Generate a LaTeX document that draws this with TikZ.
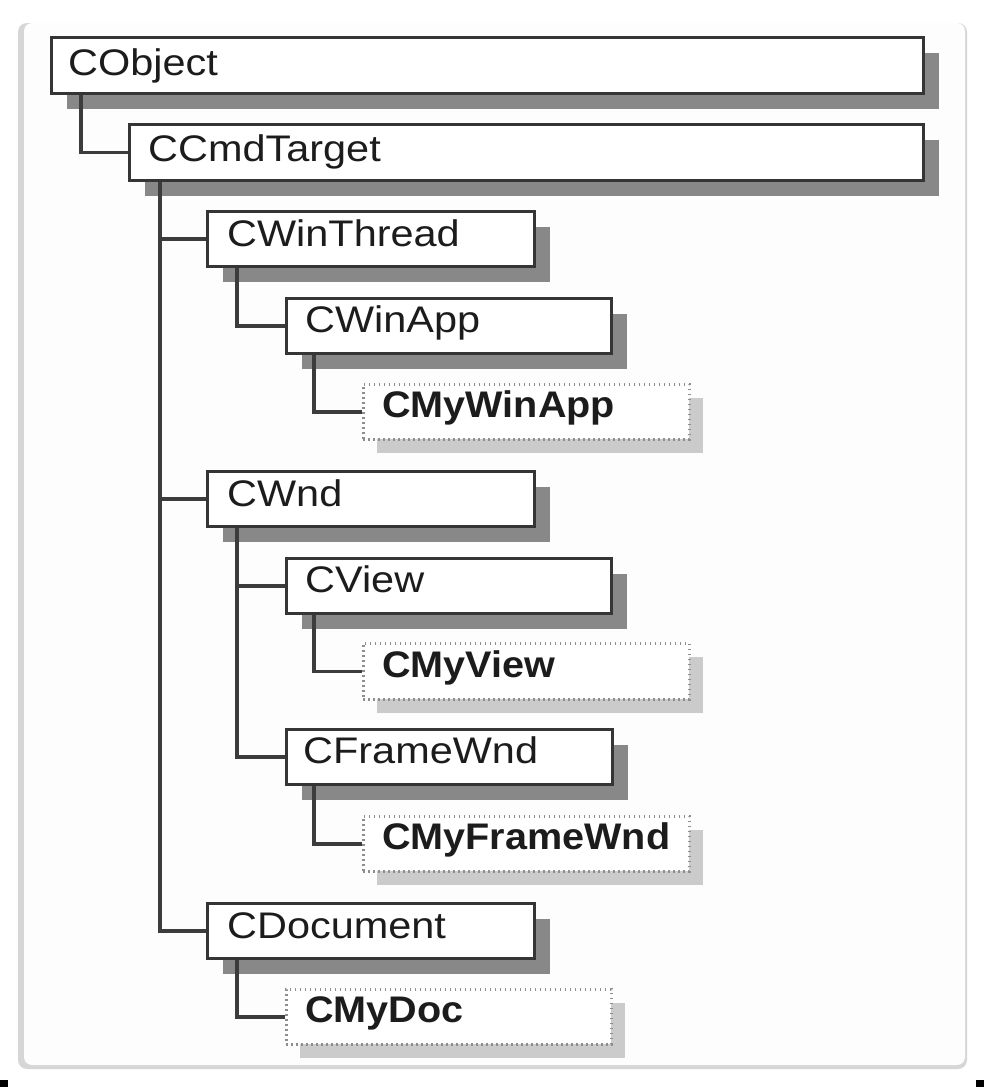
\documentclass[tikz,border=0pt]{standalone}
\usepackage{fontspec}
\setmainfont{Liberation Sans}
\usetikzlibrary{shadows}
\definecolor{boxline}{HTML}{353535}
\definecolor{conline}{HTML}{3C3C3C}
\definecolor{shadowdark}{HTML}{888888}
\definecolor{shadowlight}{HTML}{CBCBCB}
\definecolor{dotline}{HTML}{8E8E8E}
\definecolor{txt}{HTML}{1C1C1C}
\definecolor{panelfill}{HTML}{FDFDFD}
\definecolor{paneledge}{HTML}{D6D6D6}
\newcommand{\regtext}[1]{\scalebox{1.12}[1]{#1}}
\newcommand{\boldtext}[1]{\scalebox{1.07}[1]{\bfseries #1}}
\tikzset{
  solidbox/.style={draw=boxline, line width=3.2pt, fill=white, anchor=north west, inner sep=0pt,
    general shadow={fill=shadowdark, shadow xshift=15pt, shadow yshift=-15pt}},
  dotbox/.style={draw=dotline, line width=2.6pt, dash pattern=on 1.6pt off 3.4pt, fill=white, anchor=north west, inner sep=0pt,
    general shadow={fill=shadowlight, shadow xshift=14pt, shadow yshift=-14pt}},
  lbl/.style={anchor=base west, inner sep=0pt, text=txt, font=\fontsize{37}{40}\selectfont},
  conn/.style={draw=conline, line width=3.4pt},
}
\begin{document}
\begin{tikzpicture}[x=1pt,y=-1pt]
\useasboundingbox (0,0) rectangle (984,1087);
\fill[white] (0,0) rectangle (984,1087);
% panel
\fill[paneledge, rounded corners=9pt] (18,23) rectangle (967,1069);
\fill[panelfill, rounded corners=8pt] (24,23) rectangle (965,1065);
% screenshot corner marks
\fill[black] (0,1080) rectangle (8,1087);
\fill[black] (976,1080) rectangle (984,1087);

% boxes
\node[solidbox, minimum width=872pt, minimum height=56pt] (cobject) at (50,36) {};
\node[solidbox, minimum width=794pt, minimum height=56pt] (ccmd) at (128,123) {};
\node[solidbox, minimum width=327pt, minimum height=55pt] (cwinthread) at (206,210) {};
\node[solidbox, minimum width=325pt, minimum height=55pt] (cwinapp) at (285,297) {};
\node[dotbox, minimum width=326pt, minimum height=55pt] (cmywinapp) at (362,383) {};
\node[solidbox, minimum width=327pt, minimum height=55pt] (cwnd) at (206,470) {};
\node[solidbox, minimum width=325pt, minimum height=55pt] (cview) at (285,557) {};
\node[dotbox, minimum width=326pt, minimum height=56pt] (cmyview) at (362,642) {};
\node[solidbox, minimum width=326pt, minimum height=55pt] (cframe) at (285,728) {};
\node[dotbox, minimum width=326pt, minimum height=55pt] (cmyframe) at (362,815) {};
\node[solidbox, minimum width=327pt, minimum height=55pt] (cdoc) at (206,902) {};
\node[dotbox, minimum width=325pt, minimum height=55pt] (cmydoc) at (285,988) {};

% labels
\node[lbl] (tcobject) at ([shift={(18pt,20pt)}]cobject.south west) {\regtext{CObject}};
\node[lbl] (tccmd) at ([shift={(20pt,21pt)}]ccmd.south west) {\regtext{CCmdTarget}};
\node[lbl] (tcwinthread) at ([shift={(21pt,22pt)}]cwinthread.south west) {\regtext{CWinThread}};
\node[lbl] (tcwinapp) at ([shift={(20pt,23pt)}]cwinapp.south west) {\regtext{CWinApp}};
\node[lbl] (tcmywinapp) at ([shift={(20pt,23pt)}]cmywinapp.south west) {\boldtext{CMyWinApp}};
\node[lbl] (tcwnd) at ([shift={(21pt,22pt)}]cwnd.south west) {\regtext{CWnd}};
\node[lbl] (tcview) at ([shift={(20pt,23pt)}]cview.south west) {\regtext{CView}};
\node[lbl] (tcmyview) at ([shift={(20pt,23pt)}]cmyview.south west) {\boldtext{CMyView}};
\node[lbl] (tcframe) at ([shift={(18pt,23pt)}]cframe.south west) {\regtext{CFrameWnd}};
\node[lbl] (tcmyframe) at ([shift={(20pt,23pt)}]cmyframe.south west) {\boldtext{CMyFrameWnd}};
\node[lbl] (tcdoc) at ([shift={(21pt,22pt)}]cdoc.south west) {\regtext{CDocument}};
\node[lbl] (tcmydoc) at ([shift={(20pt,23pt)}]cmydoc.south west) {\boldtext{CMyDoc}};

% connectors
\draw[conn] ([xshift=31pt]cobject.south west) |- (ccmd.west);
\draw[conn] ([xshift=32pt]ccmd.south west) |- (cwinthread.west);
\draw[conn] ([xshift=32pt]ccmd.south west) |- (cwnd.west);
\draw[conn] ([xshift=32pt]ccmd.south west) |- (cdoc.west);
\draw[conn] ([xshift=31pt]cwinthread.south west) |- (cwinapp.west);
\draw[conn] ([xshift=29pt]cwinapp.south west) |- (cmywinapp.west);
\draw[conn] ([xshift=31pt]cwnd.south west) |- (cview.west);
\draw[conn] ([xshift=31pt]cwnd.south west) |- (cframe.west);
\draw[conn] ([xshift=29pt]cview.south west) |- (cmyview.west);
\draw[conn] ([xshift=29pt]cframe.south west) |- (cmyframe.west);
\draw[conn] ([xshift=31pt]cdoc.south west) |- (cmydoc.west);
\end{tikzpicture}
\end{document}
